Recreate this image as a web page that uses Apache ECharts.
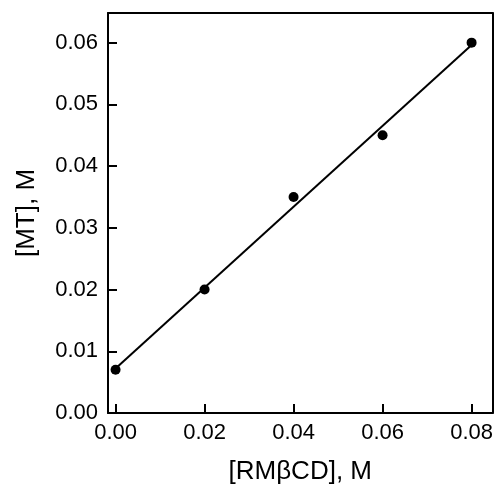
<!DOCTYPE html>
<html>
<head>
<meta charset="utf-8">
<script src="https://cdn.jsdelivr.net/npm/echarts@6/dist/echarts.min.js"></script>
<style>html,body{margin:0;padding:0;background:#fff}#c{width:496px;height:490px}</style>
</head>
<body>
<div id="c"></div>
<script>
const xValues = [0.00, 0.02, 0.04, 0.06, 0.08];
const yValues = [0.007, 0.020, 0.035, 0.045, 0.060];
const fitX = [0.00, 0.08];
const fitY = [0.0072, 0.0596];
const xTicks = [0.00, 0.02, 0.04, 0.06, 0.08];
const yTicks = [0.00, 0.01, 0.02, 0.03, 0.04, 0.05, 0.06];
const xTitle = '[RM\u03B2CD], M';
const yTitle = '[MT], M';

const font = 'Liberation Sans, Arial, sans-serif';
const chart = echarts.init(document.getElementById('c'), null, {renderer: 'canvas'});
const axLine = {show: true, onZero: false, lineStyle: {color: '#000', width: 2}};
chart.setOption({
  animation: false,
  grid: {left: 108, right: 2, top: 13, bottom: 71, containLabel: false},
  xAxis: [{
    type: 'value', min: -0.0017, max: 0.0847, position: 'bottom',
    axisLine: axLine,
    axisTick: {show: true, inside: true, length: 9, lineStyle: {color: '#000', width: 2}, customValues: xTicks},
    axisLabel: {customValues: xTicks, formatter: v => v.toFixed(2), color: '#000', fontSize: 22, fontFamily: font, margin: 9},
    splitLine: {show: false},
    name: xTitle, nameLocation: 'middle', nameGap: 46,
    nameTextStyle: {color: '#000', fontSize: 26, fontFamily: font}
  }, {
    type: 'value', min: -0.0017, max: 0.0847, position: 'top',
    axisLine: axLine, axisTick: {show: false}, axisLabel: {show: false}, splitLine: {show: false}
  }],
  yAxis: [{
    type: 'value', min: 0, max: 0.0648, position: 'left',
    axisLine: axLine,
    axisTick: {show: true, inside: true, length: 9, lineStyle: {color: '#000', width: 2}, customValues: yTicks},
    axisLabel: {customValues: yTicks, formatter: v => v.toFixed(2), color: '#000', fontSize: 22, fontFamily: font, margin: 10},
    splitLine: {show: false},
    name: yTitle, nameLocation: 'middle', nameGap: 68, nameRotate: 90,
    nameTextStyle: {color: '#000', fontSize: 26, fontFamily: font}
  }, {
    type: 'value', min: 0, max: 0.0648, position: 'right',
    axisLine: axLine, axisTick: {show: false}, axisLabel: {show: false}, splitLine: {show: false}
  }],
  series: [{
    type: 'line',
    data: fitX.map((x, i) => [x, fitY[i]]),
    showSymbol: false, symbol: 'none',
    lineStyle: {color: '#000', width: 2}
  }, {
    type: 'scatter',
    data: xValues.map((x, i) => [x, yValues[i]]),
    symbol: 'circle', symbolSize: 10,
    itemStyle: {color: '#000', opacity: 1}
  }]
});
</script>
</body>
</html>
